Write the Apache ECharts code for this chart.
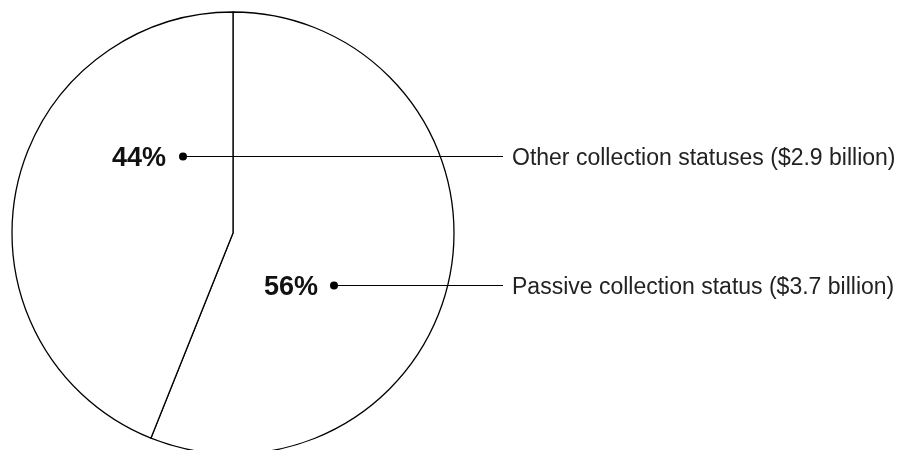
<!DOCTYPE html>
<html>
<head>
<meta charset="utf-8">
<script src="https://cdn.jsdelivr.net/npm/echarts@6/dist/echarts.min.js"></script>
<style>html,body{margin:0;padding:0;background:#fff;}#c{width:918px;height:450px;}</style>
</head>
<body>
<div id="c"></div>
<script>
var categories = ['Passive collection status', 'Other collection statuses'];
var values = [3.7, 2.9];
var percentLabels = ['56%', '44%'];
var legendLabels = ['Passive collection status ($3.7 billion)', 'Other collection statuses ($2.9 billion)'];

var chart = echarts.init(document.getElementById('c'));
var font = '"Liberation Sans", Arial, Helvetica, sans-serif';
var anno = [
  {dot: [334, 285.5], pct: [318, 285.5], text: [512, 288]},
  {dot: [183, 156.5], pct: [166, 156.5], text: [512, 159]}
];
var graphics = [];
anno.forEach(function (a, i) {
  graphics.push({type: 'line', shape: {x1: a.dot[0], y1: a.dot[1], x2: 503, y2: a.dot[1]}, style: {stroke: '#000', lineWidth: 1}, z: 10});
  graphics.push({type: 'circle', shape: {cx: a.dot[0], cy: a.dot[1], r: 4}, style: {fill: '#000'}, z: 11});
  graphics.push({type: 'text', x: a.pct[0], y: a.pct[1] + 2, style: {text: percentLabels[i], font: 'bold 27px ' + font, fill: '#111', textAlign: 'right', textVerticalAlign: 'middle'}, z: 11});
  graphics.push({type: 'text', x: a.text[0], y: a.text[1], style: {text: legendLabels[i], font: '23px ' + font, fill: '#222', textAlign: 'left', textVerticalAlign: 'middle'}, z: 11});
});
chart.setOption({
  animation: false,
  backgroundColor: '#fff',
  series: [{
    type: 'pie',
    center: [233, 233],
    radius: 221,
    startAngle: 90,
    clockwise: true,
    label: {show: false},
    labelLine: {show: false},
    emphasis: {disabled: true},
    itemStyle: {color: '#fff', borderColor: '#000', borderWidth: 1.3},
    data: categories.map(function (c, i) { return {name: c, value: values[i]}; })
  }],
  graphic: graphics
});
</script>
</body>
</html>
